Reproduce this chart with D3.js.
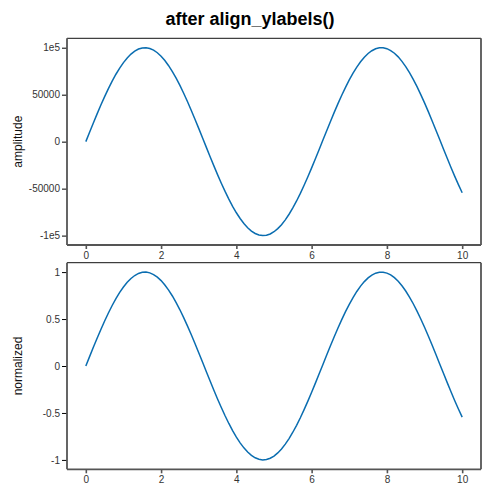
<!DOCTYPE html>
<html>
<head>
<meta charset="utf-8">
<script src="https://cdn.jsdelivr.net/npm/d3@7"></script>
<style>
  body { margin: 0; background: #fff; }
  svg { font-family: "Liberation Sans", Arial, sans-serif; }
</style>
</head>
<body>
<div id="chart"></div>
<script>
// sample positions along x
var xs = [0, 0.1, 0.2, 0.3, 0.4, 0.5, 0.6, 0.7, 0.8, 0.9,
  1, 1.1, 1.2, 1.3, 1.4, 1.5, 1.6, 1.7, 1.8, 1.9,
  2, 2.1, 2.2, 2.3, 2.4, 2.5, 2.6, 2.7, 2.8, 2.9,
  3, 3.1, 3.2, 3.3, 3.4, 3.5, 3.6, 3.7, 3.8, 3.9,
  4, 4.1, 4.2, 4.3, 4.4, 4.5, 4.6, 4.7, 4.8, 4.9,
  5, 5.1, 5.2, 5.3, 5.4, 5.5, 5.6, 5.7, 5.8, 5.9,
  6, 6.1, 6.2, 6.3, 6.4, 6.5, 6.6, 6.7, 6.8, 6.9,
  7, 7.1, 7.2, 7.3, 7.4, 7.5, 7.6, 7.7, 7.8, 7.9,
  8, 8.1, 8.2, 8.3, 8.4, 8.5, 8.6, 8.7, 8.8, 8.9,
  9, 9.1, 9.2, 9.3, 9.4, 9.5, 9.6, 9.7, 9.8, 9.9, 10]

// top panel values
var amplitude = [0, 9980, 19870, 29550, 38940, 47940, 56460, 64420, 71740, 78330,
  84150, 89120, 93200, 96360, 98540, 99750, 99960, 99170, 97380, 94630,
  90930, 86320, 80850, 74570, 67550, 59850, 51550, 42740, 33500, 23920,
  14110, 4160, -5840, -15770, -25550, -35080, -44250, -52980, -61190, -68780,
  -75680, -81830, -87160, -91620, -95160, -97750, -99370, -99990, -99620, -98250,
  -95890, -92580, -88350, -83230, -77280, -70550, -63130, -55070, -46460, -37390,
  -27940, -18220, -8310, 1680, 11650, 21510, 31150, 40480, 49410, 57840,
  65700, 72900, 79370, 85040, 89870, 93800, 96790, 98820, 99850, 99890,
  98940, 96990, 94070, 90220, 85460, 79850, 73440, 66300, 58490, 50100,
  41210, 31910, 22290, 12450, 2480, -7520, -17430, -27180, -36650, -45750, -54400]

// bottom panel values
var normalized = [0, 0.0998, 0.1987, 0.2955, 0.3894, 0.4794, 0.5646, 0.6442, 0.7174, 0.7833,
  0.8415, 0.8912, 0.9320, 0.9636, 0.9854, 0.9975, 0.9996, 0.9917, 0.9738, 0.9463,
  0.9093, 0.8632, 0.8085, 0.7457, 0.6755, 0.5985, 0.5155, 0.4274, 0.3350, 0.2392,
  0.1411, 0.0416, -0.0584, -0.1577, -0.2555, -0.3508, -0.4425, -0.5298, -0.6119, -0.6878,
  -0.7568, -0.8183, -0.8716, -0.9162, -0.9516, -0.9775, -0.9937, -0.9999, -0.9962, -0.9825,
  -0.9589, -0.9258, -0.8835, -0.8323, -0.7728, -0.7055, -0.6313, -0.5507, -0.4646, -0.3739,
  -0.2794, -0.1822, -0.0831, 0.0168, 0.1165, 0.2151, 0.3115, 0.4048, 0.4941, 0.5784,
  0.6570, 0.7290, 0.7937, 0.8504, 0.8987, 0.9380, 0.9679, 0.9882, 0.9985, 0.9989,
  0.9894, 0.9699, 0.9407, 0.9022, 0.8546, 0.7985, 0.7344, 0.6630, 0.5849, 0.5010,
  0.4121, 0.3191, 0.2229, 0.1245, 0.0248, -0.0752, -0.1743, -0.2718, -0.3665, -0.4575, -0.5440]

var xTicks = [0, 2, 4, 6, 8, 10]
var ampTicks = [-100000, -50000, 0, 50000, 100000]
var ampTickLabels = ["-1e5", "-50000", "0", "50000", "1e5"]
var normTicks = [-1, -0.5, 0, 0.5, 1]
var normTickLabels = ["-1", "-0.5", "0", "0.5", "1"]

var width = 500
var height = 500
var left = 67, right = 481

var svg = d3.select("#chart")
  .append("svg")
  .attr("width", width)
  .attr("height", height)

svg.append("text")
  .attr("x", 250)
  .attr("y", 25)
  .attr("text-anchor", "middle")
  .attr("font-size", 18)
  .attr("font-weight", "bold")
  .attr("fill", "#000")
  .text("after align_ylabels()")

var x = d3.scaleLinear().domain([-0.5, 10.5]).range([left, right])

function panel(top, bottom, values, yTicks, yLabels, yMax, title) {
  var y = d3.scaleLinear().domain([-yMax, yMax]).range([bottom, top])
  var g = svg.append("g")

  // x axis
  var xa = g.append("g")
    .attr("transform", "translate(0," + bottom + ")")
    .call(d3.axisBottom(x).tickValues(xTicks).tickSize(4).tickPadding(3).tickFormat(d3.format("d")))
  xa.select(".domain").remove()
  xa.selectAll(".tick line").attr("stroke", "#555").attr("stroke-width", 1.6)
  xa.selectAll(".tick text").attr("fill", "#333").attr("font-size", 10)
    .attr("font-family", "Liberation Sans, Arial, sans-serif")

  // y axis
  var ya = g.append("g")
    .attr("transform", "translate(" + left + ",0)")
    .call(d3.axisLeft(y).tickValues(yTicks).tickSize(5).tickPadding(2)
      .tickFormat(function(d, i) { return yLabels[i] }))
  ya.select(".domain").remove()
  ya.selectAll(".tick line").attr("stroke", "#000").attr("stroke-width", 1)
  ya.selectAll(".tick text").attr("fill", "#333").attr("font-size", 10)
    .attr("font-family", "Liberation Sans, Arial, sans-serif")

  // frame: top thin black, others thicker gray
  g.append("line").attr("x1", left).attr("x2", right).attr("y1", top).attr("y2", top)
    .attr("stroke", "#111").attr("stroke-width", 1)
  g.append("line").attr("x1", left).attr("x2", left).attr("y1", top).attr("y2", bottom)
    .attr("stroke", "#555").attr("stroke-width", 1.8)
  g.append("line").attr("x1", right).attr("x2", right).attr("y1", top).attr("y2", bottom)
    .attr("stroke", "#555").attr("stroke-width", 1.8)
  g.append("line").attr("x1", left).attr("x2", right).attr("y1", bottom).attr("y2", bottom)
    .attr("stroke", "#555").attr("stroke-width", 1.8)

  var line = d3.line()
    .x(function(d, i) { return x(xs[i]) })
    .y(function(d) { return y(d) })

  g.append("path")
    .datum(values)
    .attr("d", line)
    .attr("fill", "none")
    .attr("stroke", "#0a6db0")
    .attr("stroke-width", 1.5)

  g.append("text")
    .attr("transform", "translate(22," + ((top + bottom) / 2) + ") rotate(-90)")
    .attr("text-anchor", "middle")
    .attr("font-size", 12)
    .attr("fill", "#111")
    .text(title)
}

panel(38.3, 245, amplitude, ampTicks, ampTickLabels, 110000, "amplitude")
panel(262.7, 469.3, normalized, normTicks, normTickLabels, 1.1, "normalized")
</script>
</body>
</html>
